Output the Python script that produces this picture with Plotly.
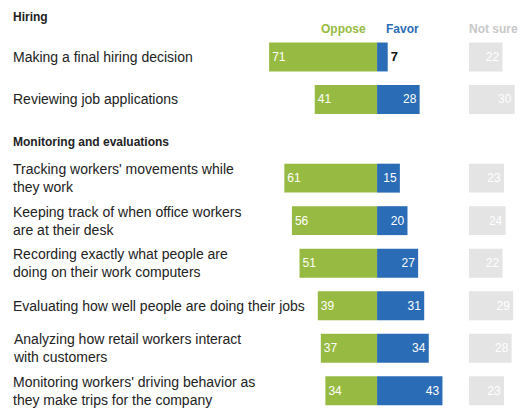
import plotly.graph_objects as go

# ---- data ----
sections = ["Hiring", "Monitoring and evaluations"]
section_of_row = [0, 0, 1, 1, 1, 1, 1, 1]
items = [
    "Making a final hiring decision",
    "Reviewing job applications",
    "Tracking workers' movements while<br>they work",
    "Keeping track of when office workers<br>are at their desk",
    "Recording exactly what people are<br>doing on their work computers",
    "Evaluating how well people are doing their jobs",
    "Analyzing how retail workers interact<br>with customers",
    "Monitoring workers' driving behavior as<br>they make trips for the company",
]
oppose = [71, 41, 61, 56, 51, 39, 37, 34]
favor = [7, 28, 15, 20, 27, 31, 34, 43]
not_sure = [22, 30, 23, 24, 22, 29, 28, 23]

# ---- style ----
GREEN = "#97bb42"
BLUE = "#2b6cb6"
GRAY = "#e4e4e4"
TXT = "#222222"
FONT = "Liberation Sans"
NS_BASE = 60.5

# row positions: sections get a header slot
ypos = []
header_pos = []
pos = 0.0
cur = -1
for i, s in enumerate(section_of_row):
    if s != cur:
        cur = s
        header_pos.append(pos + 0.05 if s == 0 else pos)
        pos += 1.0 if s == 0 else 0.85
    ypos.append(pos)
    pos += 1.0

fig = go.Figure()
fig.add_trace(go.Bar(
    y=ypos, x=oppose, base=[-v for v in oppose], orientation="h",
    marker=dict(color=GREEN, line=dict(width=0)), width=0.68,
    text=[str(v) for v in oppose], textposition="inside", insidetextanchor="start",
    insidetextfont=dict(color="white", size=12, family=FONT),
    textangle=0, constraintext="none", cliponaxis=False, hoverinfo="skip",
))
fig.add_trace(go.Bar(
    y=ypos, x=favor, base=[0] * len(favor), orientation="h",
    marker=dict(color=BLUE, line=dict(width=0)), width=0.68,
    text=[str(v) if v < 10 else str(v) for v in favor],
    textposition=["outside" if v < 10 else "inside" for v in favor],
    insidetextanchor="end",
    insidetextfont=dict(color="white", size=12, family=FONT),
    outsidetextfont=dict(color="#111", size=13, family="Liberation Sans"),
    texttemplate=["<b>%{text}</b>" if v < 10 else "%{text}" for v in favor],
    textangle=0, constraintext="none", cliponaxis=False, hoverinfo="skip",
))
fig.add_trace(go.Bar(
    y=ypos, x=not_sure, base=[NS_BASE] * len(not_sure), orientation="h",
    marker=dict(color=GRAY, line=dict(width=0)), width=0.68,
    text=[str(v) for v in not_sure], textposition="inside", insidetextanchor="end",
    insidetextfont=dict(color="white", size=12, family=FONT),
    textangle=0, constraintext="none", cliponaxis=False, hoverinfo="skip",
))

ann = []
for name, hp in zip(sections, header_pos):
    ann.append(dict(x=0.021, xref="paper", y=hp, yref="y", text="<b>" + name + "</b>",
                    showarrow=False, xanchor="left", yanchor="middle", align="left",
                    font=dict(size=12, color=TXT, family=FONT)))
for name, y in zip(items, ypos):
    ann.append(dict(x=0.021, xref="paper", y=y, yref="y", text=name,
                    showarrow=False, xanchor="left", yanchor="middle", align="left",
                    font=dict(size=14, color=TXT, family=FONT)))
# column headers
leg_y = header_pos[0] + 0.3
ann.append(dict(x=-6, y=leg_y, xref="x", yref="y", text="<b>Oppose</b>", showarrow=False,
                xanchor="right", yanchor="middle", font=dict(size=12, color=GREEN, family=FONT)))
ann.append(dict(x=4.5, y=leg_y, xref="x", yref="y", text="<b>Favor</b>", showarrow=False,
                xanchor="left", yanchor="middle", font=dict(size=12, color=BLUE, family=FONT)))
ann.append(dict(x=NS_BASE - 1.3, y=leg_y, xref="x", yref="y", text="<b>Not sure</b>", showarrow=False,
                xanchor="left", yanchor="middle", font=dict(size=12, color="#c8c8c8", family=FONT)))

fig.update_layout(
    width=520, height=409, margin=dict(l=0, r=0, t=0, b=0),
    paper_bgcolor="white", plot_bgcolor="white",
    barmode="overlay", showlegend=False,
    xaxis=dict(range=[-248, 94], visible=False, fixedrange=True),
    yaxis=dict(range=[9.28, -0.34], visible=False, fixedrange=True),
    annotations=ann,
    font=dict(family=FONT),
)
fig.write_html("out.html", config={"displayModeBar": False},
               post_script="document.body.style.margin='0';document.body.style.overflow='hidden';")
